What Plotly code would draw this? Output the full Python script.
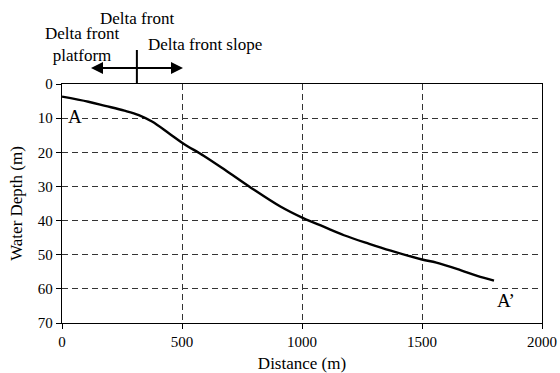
import plotly.graph_objects as go

distance = [0, 110, 180, 260, 320, 375, 445, 505, 590, 680, 790, 910, 1005, 1090, 1175, 1280, 1370, 1500, 1560, 1660, 1730, 1800]
depth = [3.7, 5.2, 6.4, 7.8, 9.1, 11.0, 14.4, 17.4, 21.0, 25.2, 30.5, 35.9, 39.3, 41.8, 44.3, 46.8, 48.8, 51.4, 52.3, 54.5, 56.2, 57.6]

x_ticks = [0, 500, 1000, 1500, 2000]
y_ticks = [0, 10, 20, 30, 40, 50, 60, 70]

FONT = "Liberation Serif"

fig = go.Figure()
fig.add_trace(go.Scatter(x=distance, y=depth, mode="lines",
                         line=dict(color="black", width=2.4, shape="spline", smoothing=1.0),
                         showlegend=False, hoverinfo="skip"))

fig.update_layout(
    width=560, height=373,
    margin=dict(l=62, r=18, t=84, b=50),
    paper_bgcolor="white", plot_bgcolor="white",
    font=dict(family=FONT, size=15, color="black"),
    xaxis=dict(range=[0, 2000], tickvals=x_ticks, ticks="outside", ticklen=5,
               tickcolor="black", showline=True, linecolor="black", linewidth=1.3,
               mirror=True, showgrid=True, gridcolor="#333", griddash="6px,4px",
               gridwidth=1, zeroline=False, automargin=False,
               tickfont=dict(size=15),
               title=dict(text="Distance (m)", standoff=8, font=dict(size=17))),
    yaxis=dict(range=[70, 0], tickvals=y_ticks, ticks="outside", ticklen=5,
               tickcolor="black", showline=True, linecolor="black", linewidth=1.3,
               mirror=True, showgrid=True, gridcolor="#333", griddash="6px,4px",
               gridwidth=1, zeroline=False, automargin=False,
               tickfont=dict(size=15),
               title=dict(text="Water Depth (m)", standoff=10, font=dict(size=17))),
)

# Point labels
fig.add_annotation(x=55, y=9.6, text="A", showarrow=False, font=dict(size=19))
fig.add_annotation(x=1850, y=63.3, text="A’", showarrow=False, font=dict(size=19))

# Delta front zone indicator (above plot); p is a pixel row/column of the figure
def px2py(p):
    return (323 - p) / 239.0

def pxx(p):
    return (p - 62) / 480.0

split = 312 / 2000.0
fig.add_shape(type="line", xref="paper", yref="paper", x0=split, x1=split,
              y0=1.0, y1=px2py(50), line=dict(color="black", width=2))
fig.add_shape(type="line", xref="paper", yref="paper", x0=pxx(95), x1=pxx(178),
              y0=px2py(68), y1=px2py(68), line=dict(color="black", width=2))
fig.add_annotation(xref="paper", yref="paper", x=pxx(91), y=px2py(68), ax=12, ay=0,
                   text="", showarrow=True, arrowhead=2, arrowsize=1.2, arrowwidth=2,
                   arrowcolor="black")
fig.add_annotation(xref="paper", yref="paper", x=pxx(183), y=px2py(68), ax=-12, ay=0,
                   text="", showarrow=True, arrowhead=2, arrowsize=1.2, arrowwidth=2,
                   arrowcolor="black")

fig.add_annotation(xref="paper", yref="paper", x=pxx(137), y=px2py(18), text="Delta front",
                   xanchor="center", yanchor="middle", showarrow=False, font=dict(size=17))
fig.add_annotation(xref="paper", yref="paper", x=pxx(82), y=px2py(45),
                   xanchor="center", yanchor="middle",
                   text="Delta front<br>platform", showarrow=False, font=dict(size=17))
fig.add_annotation(xref="paper", yref="paper", x=pxx(205), y=px2py(45),
                   xanchor="center", yanchor="middle",
                   text="Delta front slope", showarrow=False, font=dict(size=17))

fig.write_html("out.html", config={"displayModeBar": False},
               post_script="document.body.style.margin='0';document.body.style.overflow='hidden';")
